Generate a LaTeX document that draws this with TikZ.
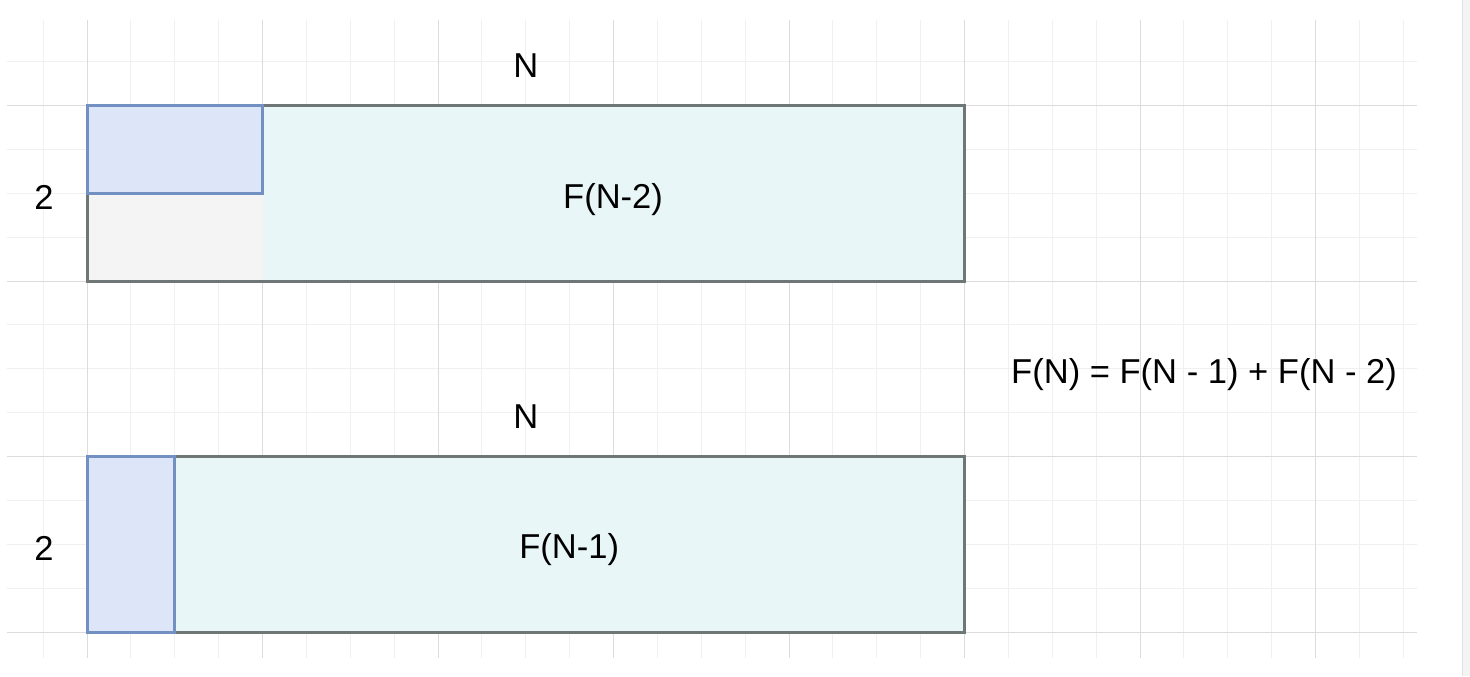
\documentclass[tikz,border=0pt]{standalone}
\usepackage{fontspec}
\setmainfont{Liberation Sans}
\definecolor{gridminor}{HTML}{F0F0F0}
\definecolor{gridmajor}{HTML}{DCDCDC}
\definecolor{cyanfill}{HTML}{E8F6F8}
\definecolor{greyfill}{HTML}{F4F4F4}
\definecolor{boxgray}{HTML}{6E7676}
\definecolor{bluefill}{HTML}{DCE6F8}
\definecolor{bluedraw}{HTML}{7390C2}
\definecolor{stripgray}{HTML}{F4F4F4}
\definecolor{stripedge}{HTML}{E2E2E2}
\begin{document}
\begin{tikzpicture}[font=\fontsize{22.4}{26}\selectfont,
	outer/.style={draw=boxgray, line width=1.95pt},
	part/.style={fill=bluefill, draw=bluedraw, line width=1.95pt}]
	\useasboundingbox (-1.983,-1.003) rectangle (31.521,14.407);
	%grid
	\foreach \x in {-1, 0, ..., 30}{
		\draw[gridminor, line width=0.65pt] (\x, -0.59)--(\x, 13.95);
	}
	\foreach \y in {0, 1, ..., 13}{
		\draw[gridminor, line width=0.65pt] (-1.82, \y)--(30.31, \y);
	}
	\foreach \x in {0, 4, 8, 12, 16, 20, 24, 28}{
		\draw[gridmajor, line width=0.65pt] (\x, -0.59)--(\x, 13.95);
	}
	\foreach \y in {0, 4, 8, 12}{
		\draw[gridmajor, line width=0.65pt] (-1.82, \y)--(30.31, \y);
	}
	\fill[stripgray] (31.36, -1.003) rectangle (31.521, 14.407);
	\draw[stripedge, line width=0.65pt] (31.36, -1.003)--(31.36, 14.407);
	
	%top strip
	\fill[cyanfill] (0, 8) rectangle (20, 12);
	\fill[greyfill] (0, 8) rectangle (4, 10);
	\draw[outer] (0, 8) rectangle (20, 12);
	\draw[part] (0, 10) rectangle (4, 12);
	\node (topN) at (10, 12.906){N};
	\node (topH) at (-0.98, 9.91){2};
	\node (topF) at (11.99, 9.86){F(N-2)};
	
	%bottom strip
	\fill[cyanfill] (0, 0) rectangle (20, 4);
	\draw[outer] (0, 0) rectangle (20, 4);
	\draw[part] (0, 0) rectangle (2, 4);
	\node (botN) at (10, 4.907){N};
	\node (botH) at (-0.98, 1.90){2};
	\node (botF) at (10.99, 1.888){F(N-1)};
	
	\node (recur) at (25.46, 5.86){F(N) = F(N - 1) + F(N - 2)};
\end{tikzpicture}
\end{document}
